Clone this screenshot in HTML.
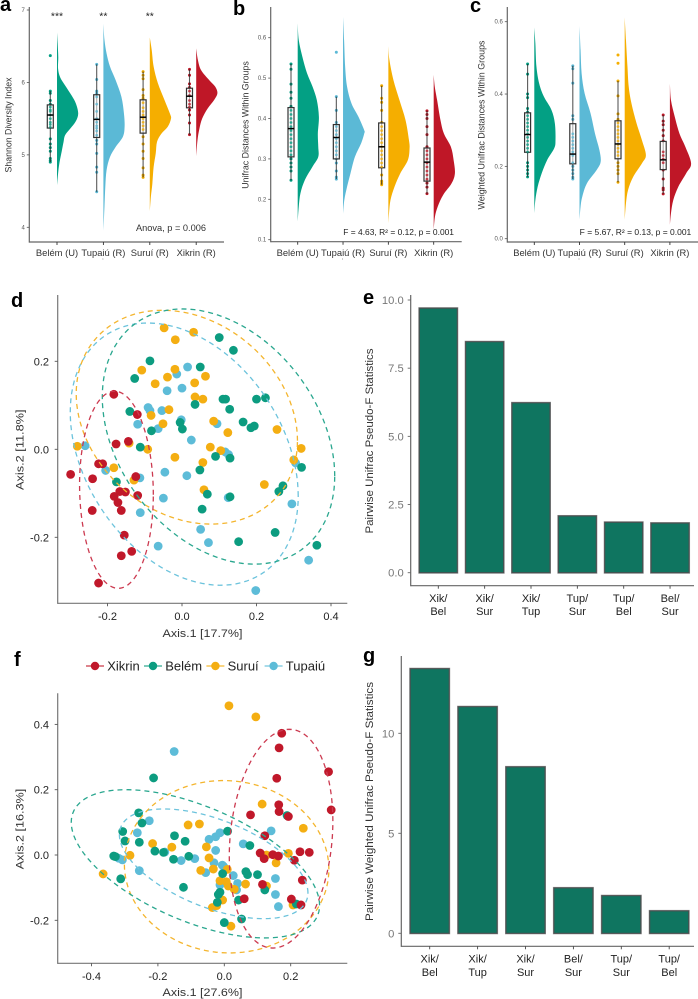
<!DOCTYPE html>
<html lang="en">
<head>
<meta charset="utf-8">
<title>Gut microbiome diversity panels</title>
<style>
html,body{margin:0;padding:0;background:#fff;}
svg{display:block;font-family:"Liberation Sans",sans-serif;filter:blur(0.3px);}
.letter{font-size:20px;font-weight:700;fill:#000;}
</style>
</head>
<body>
<svg id="figure" xmlns="http://www.w3.org/2000/svg" width="698" height="999" viewBox="0 0 698 999">
<rect width="698" height="999" fill="#fff"/>
<text class="letter" x="0" y="11">a</text>
<text class="letter" x="233" y="15">b</text>
<text class="letter" x="470" y="12">c</text>
<text class="letter" x="11" y="307">d</text>
<text class="letter" x="363" y="304">e</text>
<text class="letter" x="14" y="666">f</text>
<text class="letter" x="363" y="662">g</text>
</svg>
<script>
const groupLabels = ['Belém (U)','Tupaiú (R)','Suruí (R)','Xikrin (R)'];
const rainColors = ['#03a084','#5bb9d6','#f5ae00','#bf1727'];

/* Panel a: Shannon */
const aTicks = [4,5,6,7];
const aViolinValues = [
 [6.69,6.54,6.35,6.19,6.07,5.96,5.82,5.71,5.57,5.46,5.36,5.27,5.18,5.06,4.88,4.74,4.58],
 [6.81,6.59,6.40,6.22,6.03,5.80,5.57,5.39,5.25,5.11,4.97,4.79,4.56,4.28,3.94],
 [6.62,6.45,6.22,5.99,5.76,5.57,5.50,5.39,5.29,5.18,5.02,4.83,4.60,4.42,4.22],
 [6.47,6.31,6.17,6.03,5.94,5.85,5.76,5.64,5.50,5.36,5.20,4.98]];
const aViolinDensity = [
 [0,.03,.06,.05,.15,.38,.69,.89,1,.88,.62,.38,.31,.23,.11,.05,0],
 [0,.05,.15,.31,.58,.85,.97,1,.92,.58,.31,.15,.09,.05,0],
 [0,.09,.18,.38,.69,.95,1,.85,.54,.34,.28,.18,.12,.05,0],
 [0,.08,.23,.62,.9,1,.85,.54,.28,.15,.06,0]];
const aQ1 = [5.37,5.24,5.30,5.65];
const aMedian = [5.55,5.49,5.52,5.81];
const aQ3 = [5.69,5.83,5.76,5.92];
const aWhiskerLow = [4.90,4.49,4.69,5.28];
const aWhiskerHigh = [5.88,6.25,6.15,6.18];
const aPoints = [
 [6.37,5.88,5.85,5.75,5.7,5.66,5.62,5.6,5.55,5.5,5.45,5.42,5.38,5.22,5.15,5.1,5.05,4.95,4.92,4.90],
 [6.25,6.04,5.88,5.85,5.8,5.7,5.6,5.5,5.45,5.4,5.37,5.33,5.27,5.2,5.15,5.02,4.83,4.76,4.49],
 [6.15,6.1,6.05,5.9,5.82,5.78,5.72,5.65,5.6,5.55,5.5,5.45,5.4,5.35,5.25,5.15,5.05,4.95,4.82,4.72,4.69],
 [6.18,6.1,5.98,5.93,5.88,5.82,5.75,5.7,5.66,5.62,5.55,5.44,5.28]];
const aStars = ['***','**','**',''];

/* Panel b: Unifrac */
const bTicks = [0.1,0.2,0.3,0.4,0.5,0.6];
const bViolinValues = [
 [.635,.594,.553,.512,.479,.446,.404,.363,.330,.305,.281,.248,.215,.182,.145],
 [.652,.594,.528,.479,.437,.404,.371,.363,.338,.305,.264,.231,.198,.164],
 [.579,.545,.495,.446,.396,.347,.326,.297,.264,.231,.198,.165,.139],
 [.508,.479,.446,.396,.363,.330,.297,.264,.239,.211,.182,.157,.124]];
const bViolinDensity = [
 [0,.05,.22,.44,.7,.9,1,.95,.97,.97,.7,.34,.13,.05,0],
 [0,.05,.1,.19,.4,.73,1,1,.85,.56,.35,.19,.06,0],
 [0,.05,.24,.52,.81,.97,1,.92,.56,.29,.1,.03,0],
 [0,.05,.16,.32,.48,.81,.94,1,.84,.45,.19,.06,0]];
const bQ1 = [.305,.30,.278,.245];
const bMedian = [.375,.353,.33,.292];
const bQ3 = [.427,.385,.389,.327];
const bWhiskerLow = [.247,.25,.236,.213];
const bWhiskerHigh = [.535,.454,.481,.419];
const bPoints = [
 [.535,.522,.485,.465,.45,.43,.42,.41,.40,.39,.38,.37,.36,.35,.34,.33,.32,.31,.30,.29,.28,.27,.247],
 [.564,.454,.42,.39,.38,.37,.36,.35,.34,.33,.32,.31,.30,.29,.27,.255,.25],
 [.481,.45,.44,.42,.39,.38,.37,.36,.35,.34,.33,.32,.31,.30,.29,.28,.26,.245,.24,.236],
 [.419,.41,.40,.38,.36,.33,.32,.31,.30,.29,.28,.27,.26,.25,.24,.23,.214]];

/* Panel c: Weighted Unifrac */
const cTicks = [0,0.2,0.4,0.6];
const cViolinValues = [
 [.584,.54,.476,.429,.393,.356,.319,.273,.25,.218,.181,.144,.107,.07],
 [.588,.522,.457,.402,.347,.291,.245,.213,.19,.153,.116,.088,.053],
 [.612,.549,.476,.42,.374,.319,.273,.231,.208,.171,.135,.098,.052],
 [.428,.383,.337,.291,.254,.208,.181,.144,.107,.07,.038]];
const cViolinDensity = [
 [0,.05,.1,.23,.45,.81,.97,1,.94,.61,.35,.16,.05,0],
 [0,.05,.1,.24,.52,.73,.94,1,.81,.35,.13,.05,0],
 [0,.06,.13,.19,.32,.56,.81,1,.81,.4,.16,.06,0],
 [0,.05,.23,.45,.73,1,.77,.4,.16,.05,0]];
const cQ1 = [.239,.207,.221,.191];
const cMedian = [.288,.234,.262,.218];
const cQ3 = [.348,.318,.326,.269];
const cWhiskerLow = [.171,.165,.156,.124];
const cWhiskerHigh = [.483,.478,.436,.342];
const cPoints = [
 [.483,.455,.40,.39,.36,.35,.34,.33,.32,.31,.30,.29,.28,.27,.26,.25,.24,.21,.20,.19,.18,.171],
 [.478,.47,.43,.34,.33,.29,.28,.27,.26,.25,.24,.23,.21,.20,.19,.18,.17,.165],
 [.508,.485,.436,.395,.345,.33,.32,.31,.30,.29,.28,.27,.26,.25,.24,.23,.21,.20,.19,.18,.156],
 [.342,.325,.315,.30,.285,.27,.24,.23,.22,.21,.19,.165,.14,.135,.124]];

/* Scatter groups */
const pcoaGroups = ['Tupaiú','Suruí','Belém','Xikrin'];
const pcoaColors = ['#5dbcd8','#f4ae12','#0c9c80','#c0182a'];
const ellipseColors = ['#6cc3dc','#f4b52e','#2aa78f','#cc3a50'];

/* Panel d */
const dXTicks = [-0.2,0,0.2,0.4];
const dYTicks = [-0.2,0,0.2];
const dTupaiuX = [-.260,.015,-.014,-.040,0,-.091,-.086,-.054,-.119,-.064,-.002,.094,.025,.116,.125,-.205,-.113,-.046,.013,-.050,-.112,.124,.050,.071,-.064,.295,.340,.198,.305];
const dTupaiuY = [.008,.187,.171,.133,.139,.095,.088,.088,.057,.047,.067,.058,.021,-.006,-.012,-.048,-.065,-.052,-.060,-.111,-.144,-.110,-.182,-.212,-.220,-.124,-.252,-.321,-.031];
const dSuruiX = [-.048,.031,-.018,-.108,-.019,-.039,.063,-.072,.034,.035,.056,-.035,-.083,-.051,.085,.123,.255,-.281,-.142,-.092,-.019,.076,.104,.056,-.183,-.129,.059,.221,.300,.320];
const dSuruiY = [.276,.266,.249,.180,.182,.164,.166,.149,.151,.119,.114,.090,.077,.058,.064,.038,.045,.007,.014,0,-.018,.005,-.003,-.030,-.042,-.070,-.092,-.080,-.024,.002];
const dBelemX = [-.086,-.127,-.140,-.112,-.082,-.176,.100,.138,.049,.035,.110,.117,.128,.200,.224,.164,.185,.194,-.005,.001,.090,.129,.048,.068,.054,.129,.260,.271,.321,.250,.152,.362];
const dBelemY = [.201,.161,.086,.005,.042,-.074,.254,.225,.187,.102,.114,.114,.091,.114,.117,.062,.049,.053,.061,.046,-.016,-.020,-.047,-.102,-.136,-.108,-.096,-.083,-.041,-.189,-.210,-.218];
const dXikrinX = [-.299,-.240,-.241,-.224,-.213,-.183,-.177,-.144,-.120,-.124,-.119,-.182,-.167,-.152,-.172,-.163,-.155,-.163,-.135,-.224];
const dXikrinY = [-.057,-.067,-.139,-.033,-.033,.125,.012,.018,.079,-.062,-.105,-.107,-.096,-.097,-.121,-.139,-.195,-.242,-.232,-.304];
const dEllipseCenterX = [.006,.013,.098,-.176];
const dEllipseCenterY = [-.011,.073,.029,-.092];
const dEllipseSpreadX = [.306,.297,.312,.099];
const dEllipseSpreadY = [.298,.243,.290,.224];
const dEllipseCorr = [-.32,-.22,-.31,-.05];

/* Panel f */
const fXTicks = [-0.4,-0.2,0,0.2];
const fYTicks = [-0.2,0,0.2,0.4];
const fTupaiuX = [-.151,-.226,-.262,-.046,-.026,-.013,.057,-.026,-.179,-.130,-.089,-.307,-.318,-.256,-.031,-.006,-.056,-.002,.027,-.013,.040,.037,.154,.154,.163,.141];
const fTupaiuY = [.317,.105,.068,.048,.056,.068,.034,.014,.009,-.017,-.011,-.015,-.010,-.048,-.024,-.031,-.054,-.035,-.063,-.092,-.087,-.107,-.072,-.121,-.158,.074];
const fSuruiX = [.014,.095,.114,.238,-.109,-.075,-.216,-.158,-.054,-.046,-.284,-.365,-.071,-.033,.009,.156,.193,.127,-.013,.006,.012,.030,.064,.127,.207,-.005,-.036,-.023,.020];
const fSuruiY = [.457,.423,.156,.082,.092,.095,.035,.024,.025,-.009,-.001,-.058,-.047,-.043,-.044,-.024,.005,0,-.079,-.082,-.095,-.105,-.089,-.095,-.153,-.138,-.161,-.155,-.218];
const fBelemX = [-.213,-.258,-.248,-.306,-.299,-.256,-.209,-.150,-.118,-.183,-.153,-.107,-.333,-.328,-.312,-.123,.010,.077,-.005,.065,.070,.100,-.013,-.018,-.021,.043,.122,.052,0,.217,.189];
const fBelemY = [.236,.129,.098,.072,.043,.039,.012,.059,.042,.008,-.013,-.004,-.003,-.005,-.073,-.099,.073,.029,-.057,-.051,-.060,-.060,-.114,-.121,-.145,-.138,-.107,-.196,-.207,-.150,.121];
const fXikrinX = [.173,.165,.158,.314,.322,.164,.165,.193,.079,.122,.108,.120,.146,.163,.228,.256,.211,.235,.115,.202,.231,.060];
const fXikrinY = [.373,.328,.235,.255,.138,.154,.133,.118,.123,.059,.006,-.011,.001,-.003,.010,.008,-.016,-.077,-.090,-.135,-.153,-.134];
const fEllipseCenterX = [-.032,.007,-.087,.171];
const fEllipseCenterY = [-.027,-.036,-.027,.050];
const fEllipseSpreadX = [.284,.308,.374,.156];
const fEllipseSpreadY = [.168,.264,.227,.335];
const fEllipseCorr = [-.53,-.03,-.56,.16];

/* Legend */
const legendLabels = ['Xikrin','Belém','Suruí','Tupaiú'];
const legendColors = ['#c0182a','#0c9c80','#f4ae12','#5dbcd8'];

/* Panel e */
const eCategories = ['Xik/Bel','Xik/Sur','Xik/Tup','Tup/Sur','Tup/Bel','Bel/Sur'];
const eValues = [9.7,8.47,6.23,2.08,1.85,1.82];
const eTicks = ['0.0','2.5','5.0','7.5','10.0'];

/* Panel g */
const gCategories = ['Xik/Bel','Xik/Tup','Xik/Sur','Bel/Sur','Tup/Sur','Tup/Bel'];
const gValues = [13.23,11.33,8.32,2.27,1.88,1.12];
const gTicks = ['0','5','10'];

const SVGNS = 'http://www.w3.org/2000/svg';
const root = document.getElementById('figure');

function mk(parent, tag, attrs, name) {
  const el = document.createElementNS(SVGNS, tag);
  for (const k in attrs) el.setAttribute(k, attrs[k]);
  
  
  parent.appendChild(el);
  return el;
}
function txt(parent, s, x, y, o, name) {
  const a = {x: x, y: y, 'font-size': o.size, fill: o.fill || '#333', 'text-anchor': o.anchor || 'start'};
  if (o.len) { a.textLength = o.len; a.lengthAdjust = 'spacingAndGlyphs'; }
  if (o.rot) a.transform = 'rotate(-90 ' + x + ' ' + y + ')';
  const el = mk(parent, 'text', a, name);
  el.textContent = s;
  return el;
}
function linear(d0, d1, r0, r1) {
  return function (v) { return r0 + (v - d0) * (r1 - r0) / (d1 - d0); };
}
function smooth(pts) {
  let d = 'M' + pts[0][0].toFixed(2) + ',' + pts[0][1].toFixed(2);
  for (let i = 0; i < pts.length - 1; i++) {
    const p0 = pts[Math.max(i - 1, 0)], p1 = pts[i], p2 = pts[i + 1], p3 = pts[Math.min(i + 2, pts.length - 1)];
    const c1x = p1[0] + (p2[0] - p0[0]) / 6, c1y = p1[1] + (p2[1] - p0[1]) / 6;
    const c2x = p2[0] - (p3[0] - p1[0]) / 6, c2y = p2[1] - (p3[1] - p1[1]) / 6;
    d += 'C' + c1x.toFixed(2) + ',' + c1y.toFixed(2) + ' ' + c2x.toFixed(2) + ',' + c2y.toFixed(2) + ' ' + p2[0].toFixed(2) + ',' + p2[1].toFixed(2);
  }
  return d;
}
function axisLines(g, left, top, bottom, right, color) {
  mk(g, 'line', {x1: left, x2: left, y1: top, y2: bottom + 0.6, stroke: color, 'stroke-width': 1.2}, 'y-axis-line');
  mk(g, 'line', {x1: left, x2: right, y1: bottom, y2: bottom, stroke: color, 'stroke-width': 1.2}, 'x-axis-line');
}

function rainPanel(id, p) {
  const g = mk(root, 'g', {}, 'panel-' + id);
  const y = linear(p.yD[0], p.yD[1], p.yR[0], p.yR[1]);
  const x = function (i) { return p.x0 + p.step * i; };
  axisLines(g, p.left, 7, p.bottom, p.right, '#666');
  p.ticks.forEach(function (t) {
    mk(g, 'line', {x1: p.left - 2.5, x2: p.left, y1: y(t), y2: y(t), stroke: '#555', 'stroke-width': 0.8}, 'y-tick');
    txt(g, p.fmt(t), p.left - 4.5, y(t) + 2, {size: 6, fill: '#555', anchor: 'end'}, 'y-tick-label');
  });
  mk(g, 'circle', {cx: x(1) - 0.5, cy: 259, r: 0.5, fill: '#777'}, 'tick-speck');
  groupLabels.forEach(function (lab, i) {
    mk(g, 'line', {x1: x(i), x2: x(i), y1: p.bottom, y2: p.bottom + 3, stroke: '#333', 'stroke-width': 0.9}, 'x-tick');
    txt(g, lab, x(i), 256, {size: 9.4, anchor: 'middle', fill: '#333'}, 'x-tick-label');
    const pts = p.vals[i].map(function (v, j) { return [x(i) + p.dens[i][j] * 21.2, y(v)]; });
    mk(g, 'path', {d: smooth(pts) + 'Z', fill: rainColors[i]}, 'violin-' + i);
    const bx = x(i) - 6.7;
    p.points[i].forEach(function (v) {
      mk(g, 'circle', {cx: bx, cy: y(v), r: 1.5, fill: rainColors[i]}, 'sample-point');
    });
    mk(g, 'line', {x1: bx, x2: bx, y1: y(p.wl[i]), y2: y(p.wh[i]), stroke: '#222', 'stroke-width': 1.1, opacity: 0.75}, 'whisker');
    mk(g, 'rect', {x: bx - 3, y: y(p.q3[i]), width: 6, height: y(p.q1[i]) - y(p.q3[i]), fill: 'rgba(255,255,255,.5)', stroke: '#333', 'stroke-width': 1.2}, 'box');
    p.points[i].filter(function (v) { return v < p.q3[i] && v > p.q1[i]; }).forEach(function (v) {
      mk(g, 'circle', {cx: bx, cy: y(v), r: 1.2, fill: rainColors[i], opacity: 0.7}, 'box-point');
    });
    mk(g, 'line', {x1: bx - 3.2, x2: bx + 3.2, y1: y(p.med[i]), y2: y(p.med[i]), stroke: '#000', 'stroke-width': 1.5}, 'median');
  });
  txt(g, p.title, p.titleX, 125, {size: 9, rot: true, anchor: 'middle', len: p.titleLen, fill: '#333'}, 'y-axis-title');
  return {g: g, x: x};
}

const fmt1 = function (t) { return t.toFixed(1); };
const pa = rainPanel('a', {yD: [7, 4], yR: [10, 227.3], x0: 57, step: 46.4, left: 29.3, bottom: 242, right: 224, ticks: aTicks, fmt: String,
  vals: aViolinValues, dens: aViolinDensity, points: aPoints, q1: aQ1, med: aMedian, q3: aQ3, wl: aWhiskerLow, wh: aWhiskerHigh,
  title: 'Shannon Diversity Index', titleX: 11.5, titleLen: 95});
aStars.forEach(function (s, i) {
  if (s) txt(pa.g, s, pa.x(i), 19.5, {size: 10.5, anchor: 'middle', fill: '#222'}, 'significance-stars');
});
txt(pa.g, 'Anova, p = 0.006', 136, 231, {size: 9.2, len: 70, fill: '#333'}, 'anova-annotation');

const pb = rainPanel('b', {yD: [.6, .1], yR: [37.7, 239.7], x0: 297.7, step: 45.33, left: 270.7, bottom: 241.7, right: 461.7, ticks: bTicks, fmt: fmt1,
  vals: bViolinValues, dens: bViolinDensity, points: bPoints, q1: bQ1, med: bMedian, q3: bQ3, wl: bWhiskerLow, wh: bWhiskerHigh,
  title: 'Unifrac Distances Within Groups', titleX: 248.5, titleLen: 127.5});
txt(pb.g, 'F = 4.63,  R² = 0.12, p = 0.001', 343.3, 235, {size: 8.3, len: 110.7, fill: '#222'}, 'permanova-annotation');

const pc = rainPanel('c', {yD: [.6, 0], yR: [21.7, 238.7], x0: 534.3, step: 45.2, left: 507.3, bottom: 242, right: 698, ticks: cTicks, fmt: fmt1,
  vals: cViolinValues, dens: cViolinDensity, points: cPoints, q1: cQ1, med: cMedian, q3: cQ3, wl: cWhiskerLow, wh: cWhiskerHigh,
  title: 'Weighted Unifrac Distances Within Groups', titleX: 484.5, titleLen: 169});
txt(pc.g, 'F = 5.67,  R² = 0.13, p = 0.001', 579.7, 235, {size: 8.3, len: 111.6, fill: '#222'}, 'permanova-annotation');

function pcoaPanel(id, p) {
  const g = mk(root, 'g', {}, 'panel-' + id);
  const x = linear(p.xD[0], p.xD[1], p.xR[0], p.xR[1]);
  const y = linear(p.yD[0], p.yD[1], p.yR[0], p.yR[1]);
  axisLines(g, 57.7, p.top, p.bottom, 347.3, '#777');
  p.xTicks.forEach(function (t) {
    mk(g, 'line', {x1: x(t), x2: x(t), y1: p.bottom, y2: p.bottom + 3, stroke: '#555', 'stroke-width': 0.9}, 'x-tick');
    txt(g, t.toFixed(1), x(t), p.bottom + 16.5, {size: 11, anchor: 'middle', fill: '#222'}, 'x-tick-label');
  });
  p.yTicks.forEach(function (t) {
    mk(g, 'line', {x1: 54.7, x2: 57.7, y1: y(t), y2: y(t), stroke: '#555', 'stroke-width': 0.9}, 'y-tick');
    txt(g, t.toFixed(1), 49, y(t) + 4, {size: 11, anchor: 'end', fill: '#222'}, 'y-tick-label');
  });
  p.series.forEach(function (s, i) {
    const c = mk(g, 'g', {}, 'series-' + pcoaGroups[i].toLowerCase());
    s[0].forEach(function (v, j) {
      mk(c, 'circle', {cx: x(v), cy: y(s[1][j]), r: 4.4, fill: pcoaColors[i]}, 'sample-point');
    });
  });
  p.series.forEach(function (s, i) {
    const n = 120, pts = [];
    const rho = p.corr[i], q = Math.sqrt(1 - rho * rho);
    for (let k = 0; k <= n; k++) {
      const t = 2 * Math.PI * k / n;
      pts.push(x(p.cx[i] + p.sx[i] * Math.cos(t)).toFixed(2) + ',' + y(p.cy[i] + p.sy[i] * (rho * Math.cos(t) + q * Math.sin(t))).toFixed(2));
    }
    mk(g, 'polyline', {points: pts.join(' '), fill: 'none', stroke: ellipseColors[i], 'stroke-width': 1.3, 'stroke-dasharray': '5 4'}, 'ellipse-' + pcoaGroups[i].toLowerCase());
  });
  txt(g, p.xTitle, 202.5, p.xTitleY, {size: 11.3, anchor: 'middle', fill: '#333', len: 80}, 'x-axis-title');
  txt(g, p.yTitle, 23.5, p.yTitleC, {size: 11.3, anchor: 'middle', fill: '#333', rot: true, len: 80.5}, 'y-axis-title');
  return g;
}

pcoaPanel('d', {xD: [0, .4], xR: [182, 331], yD: [0, .2], yR: [449.3, 361.3], top: 295, bottom: 603.3,
  xTicks: dXTicks, yTicks: dYTicks,
  series: [[dTupaiuX, dTupaiuY], [dSuruiX, dSuruiY], [dBelemX, dBelemY], [dXikrinX, dXikrinY]],
  cx: dEllipseCenterX, cy: dEllipseCenterY, sx: dEllipseSpreadX, sy: dEllipseSpreadY, corr: dEllipseCorr,
  xTitle: 'Axis.1   [17.7%]', xTitleY: 637, yTitle: 'Axis.2   [11.8%]', yTitleC: 449.7});

const pf = pcoaPanel('f', {xD: [0, .2], xR: [224.3, 290.7], yD: [0, .2], yR: [855, 789.7], top: 693.3, bottom: 963.3,
  xTicks: fXTicks, yTicks: fYTicks,
  series: [[fTupaiuX, fTupaiuY], [fSuruiX, fSuruiY], [fBelemX, fBelemY], [fXikrinX, fXikrinY]],
  cx: fEllipseCenterX, cy: fEllipseCenterY, sx: fEllipseSpreadX, sy: fEllipseSpreadY, corr: fEllipseCorr,
  xTitle: 'Axis.1   [27.6%]', xTitleY: 996, yTitle: 'Axis.2   [16.3%]', yTitleC: 829});

const legend = mk(pf, 'g', {}, 'legend');
const legendStart = 95, legendStep = 60.2;
legendLabels.forEach(function (lab, i) {
  const cx = legendStart + legendStep * i - (i === 1 ? 2.2 : 0) - (i === 3 ? 2 : 0);
  const item = mk(legend, 'g', {}, 'legend-entry-' + lab.toLowerCase());
  mk(item, 'line', {x1: cx - 9, x2: cx + 9, y1: 666, y2: 666, stroke: legendColors[i], 'stroke-width': 1.3, opacity: 0.85}, 'legend-line');
  mk(item, 'circle', {cx: cx, cy: 666, r: 4.2, fill: legendColors[i]}, 'legend-dot');
  txt(item, lab, cx + 12.2, 670.5, {size: 13, fill: '#222'}, 'legend-label');
});

function barPanel(id, p) {
  const g = mk(root, 'g', {}, 'panel-' + id);
  const y = linear(p.yD[0], p.yD[1], p.yR[0], p.yR[1]);
  const x = function (i) { return p.x0 + p.step * i; };
  axisLines(g, p.left, p.top, p.bottom, 694, '#666');
  p.ticks.forEach(function (t) {
    const v = parseFloat(t);
    mk(g, 'line', {x1: p.left - 3, x2: p.left, y1: y(v), y2: y(v), stroke: '#666', 'stroke-width': 0.9}, 'y-tick');
    txt(g, t, p.left - 7, y(v) + 4, {size: 11.2, anchor: 'end', fill: '#777'}, 'y-tick-label');
  });
  p.cats.forEach(function (c, i) {
    mk(g, 'rect', {x: x(i) - p.w / 2, y: y(p.vals[i]), width: p.w, height: y(0) - y(p.vals[i]), fill: '#0f7560', stroke: '#9a9a9a', 'stroke-width': 2}, 'bar-halo-' + i);
    mk(g, 'rect', {x: x(i) - p.w / 2, y: y(p.vals[i]), width: p.w, height: y(0) - y(p.vals[i]), fill: '#0f7560', stroke: '#4c4f50', 'stroke-width': 1.1}, 'bar-' + i);
    mk(g, 'line', {x1: x(i), x2: x(i), y1: p.bottom, y2: p.bottom + 3, stroke: '#444', 'stroke-width': 0.9}, 'x-tick');
    const parts = c.split('/');
    txt(g, parts[0] + '/', x(i), p.labelY, {size: 11, anchor: 'middle', fill: '#222'}, 'x-tick-label-top');
    txt(g, parts[1], x(i), p.labelY + 13.2, {size: 11, anchor: 'middle', fill: '#222'}, 'x-tick-label-bottom');
  });
  txt(g, p.title, p.titleX, p.titleC, {size: 11.4, anchor: 'middle', fill: '#333', rot: true, len: p.titleLen}, 'y-axis-title');
}

barPanel('e', {yD: [0, 10], yR: [572.7, 300], x0: 438.3, step: 46.35, w: 38, left: 410.7, top: 295, bottom: 585.7,
  cats: eCategories, vals: eValues, ticks: eTicks, labelY: 602, title: 'Pairwise Unifrac Pseudo-F Statistics', titleX: 373, titleC: 441, titleLen: 185});
barPanel('g', {yD: [0, 10], yR: [933.3, 733.3], x0: 429.7, step: 47.9, w: 39, left: 401.3, top: 656, bottom: 946.3,
  cats: gCategories, vals: gValues, ticks: gTicks, labelY: 962.7, title: 'Pairwise Weighted Unifrac Pseudo-F Statistics', titleX: 373, titleC: 801.5, titleLen: 239});
</script>
</body>
</html>
